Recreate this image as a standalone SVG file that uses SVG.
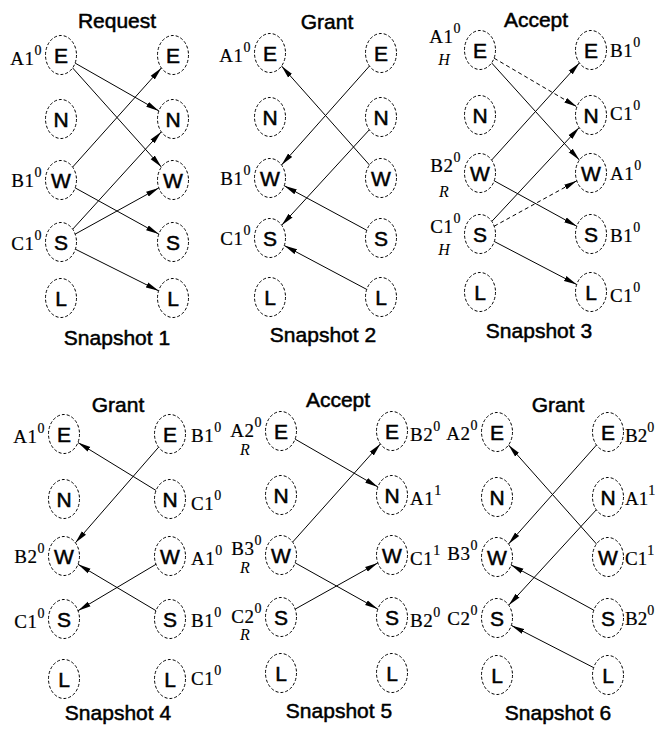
<svg xmlns="http://www.w3.org/2000/svg" width="657" height="729" viewBox="0 0 657 729">
<style>
  .bg { fill: #ffffff; }
  .nd ellipse { fill: #ffffff; stroke: #000; stroke-width: 1; stroke-dasharray: 3 2; }
  .nd .n { font-family: "Liberation Sans", Arial, sans-serif; font-size: 21px; text-anchor: middle; fill: #000; stroke: #000; stroke-width: 0.5px; }
  .lab { font-family: "Liberation Serif", "Times New Roman", serif; font-size: 19px; letter-spacing: 0.5px; fill: #000; stroke: #000; stroke-width: 0.2px; }
  .lab.l { text-anchor: end; }
  .lab.tight { letter-spacing: 0; }
  .sup { font-size: 14px; }
  .it { font-family: "Liberation Serif", "Times New Roman", serif; font-style: italic; font-size: 16px; text-anchor: middle; fill: #000; }
  .title { font-family: "Liberation Sans", Arial, sans-serif; font-size: 21px; text-anchor: middle; fill: #000; stroke: #000; stroke-width: 0.5px; }
  .c { stroke: #000; stroke-width: 1; fill: none; marker-end: url(#ah); }
  .d { stroke-dasharray: 4 3; }
</style>
<defs>
  <marker id="ah" markerWidth="14" markerHeight="7" refX="13" refY="3.5" orient="auto" markerUnits="userSpaceOnUse">
    <path d="M0,0.8 L13,3.5 L0,6.2 z" fill="#000"/>
  </marker>
</defs>
<rect class="bg" x="0" y="0" width="657" height="729"/>

<!-- titles -->
<g id="titles">
  <text class="title" x="117" y="28">Request</text>
  <text class="title" x="327" y="29">Grant</text>
  <text class="title" x="536" y="27">Accept</text>
  <text class="title" x="117" y="345">Snapshot 1</text>
  <text class="title" x="323" y="342">Snapshot 2</text>
  <text class="title" x="539" y="338">Snapshot 3</text>
  <text class="title" x="118" y="412">Grant</text>
  <text class="title" x="338" y="407">Accept</text>
  <text class="title" x="558" y="412">Grant</text>
  <text class="title" x="118" y="720">Snapshot 4</text>
  <text class="title" x="339" y="718">Snapshot 5</text>
  <text class="title" x="558" y="720">Snapshot 6</text>
</g>

<!-- connectors -->
<g id="connectors">
  <!-- snapshot 1: requests -->
  <line class="c" x1="75.1" y1="63.1" x2="158.9" y2="110.9"/>
  <line class="c" x1="72.6" y1="67.9" x2="161.4" y2="167.1"/>
  <line class="c" x1="72.6" y1="167.1" x2="161.4" y2="67.9"/>
  <line class="c" x1="75.2" y1="187.9" x2="158.8" y2="234.1"/>
  <line class="c" x1="72.7" y1="229.2" x2="161.3" y2="131.8"/>
  <line class="c" x1="75.2" y1="234.1" x2="158.8" y2="187.9"/>
  <line class="c" x1="75.4" y1="249.2" x2="158.6" y2="290.8"/>
  <!-- snapshot 2: grants -->
  <line class="c" x1="369.5" y1="165" x2="281.5" y2="66"/>
  <line class="c" x1="369.5" y1="66" x2="281.5" y2="165"/>
  <line class="c" x1="369.3" y1="129.8" x2="281.7" y2="225.2"/>
  <line class="c" x1="366.8" y1="230.3" x2="284.2" y2="185.7"/>
  <line class="c" x1="366.7" y1="289.4" x2="284.3" y2="245.6"/>
  <!-- snapshot 3: accepts -->
  <line class="c d" x1="494.1" y1="58.2" x2="576.9" y2="106.8"/>
  <line class="c" x1="491.6" y1="62.9" x2="579.4" y2="160.1"/>
  <line class="c" x1="491.6" y1="160.1" x2="579.4" y2="62.9"/>
  <line class="c" x1="494.2" y1="180.8" x2="576.8" y2="226.2"/>
  <line class="c" x1="491.8" y1="221.4" x2="579.2" y2="127.6"/>
  <line class="c d" x1="494.2" y1="226.2" x2="576.8" y2="180.8"/>
  <line class="c" x1="494.3" y1="241.5" x2="576.7" y2="284.5"/>
  <!-- snapshot 4: grants -->
  <line class="c" x1="156.1" y1="490.5" x2="77.9" y2="442.5"/>
  <line class="c" x1="158.6" y1="447.2" x2="75.4" y2="542.8"/>
  <line class="c" x1="156" y1="610.7" x2="78" y2="564.3"/>
  <line class="c" x1="156" y1="564.3" x2="78" y2="610.7"/>
  <!-- snapshot 5: accepts -->
  <line class="c" x1="295.1" y1="439.1" x2="377.9" y2="486.9"/>
  <line class="c" x1="292.6" y1="542.1" x2="380.4" y2="443.9"/>
  <line class="c" x1="295.2" y1="562.9" x2="377.8" y2="609.1"/>
  <line class="c" x1="295.2" y1="609.1" x2="377.8" y2="562.9"/>
  <!-- snapshot 6: grants -->
  <line class="c" x1="596.5" y1="544" x2="508.5" y2="445"/>
  <line class="c" x1="596.5" y1="445" x2="508.5" y2="544"/>
  <line class="c" x1="596.3" y1="509.8" x2="508.7" y2="605.2"/>
  <line class="c" x1="593.8" y1="610.2" x2="510.8" y2="564.8"/>
  <line class="c" x1="593.6" y1="667.6" x2="511.4" y2="625.4"/>
</g>

<!-- snapshot 1 nodes -->
<g id="s1-l-E" class="nd"><ellipse cx="61" cy="55" rx="15.5" ry="19.5"/><text class="n" x="61" y="62.5">E</text><text class="lab l" x="42" y="65">A1<tspan class="sup" dy="-10">0</tspan></text></g>
<g id="s1-l-N" class="nd"><ellipse cx="61" cy="119" rx="15.5" ry="19.5"/><text class="n" x="61" y="126.5">N</text></g>
<g id="s1-l-W" class="nd"><ellipse cx="61" cy="180" rx="15.5" ry="19.5"/><text class="n" x="61" y="187.5">W</text><text class="lab l" x="42" y="187">B1<tspan class="sup" dy="-10">0</tspan></text></g>
<g id="s1-l-S" class="nd"><ellipse cx="61" cy="242" rx="15.5" ry="19.5"/><text class="n" x="61" y="249.5">S</text><text class="lab l" x="42" y="250">C1<tspan class="sup" dy="-10">0</tspan></text></g>
<g id="s1-l-L" class="nd"><ellipse cx="61" cy="298" rx="15.5" ry="19.5"/><text class="n" x="61" y="305.5">L</text></g>
<g id="s1-r-E" class="nd"><ellipse cx="173" cy="55" rx="15.5" ry="19.5"/><text class="n" x="173" y="62.5">E</text></g>
<g id="s1-r-N" class="nd"><ellipse cx="173" cy="119" rx="15.5" ry="19.5"/><text class="n" x="173" y="126.5">N</text></g>
<g id="s1-r-W" class="nd"><ellipse cx="173" cy="180" rx="15.5" ry="19.5"/><text class="n" x="173" y="187.5">W</text></g>
<g id="s1-r-S" class="nd"><ellipse cx="173" cy="242" rx="15.5" ry="19.5"/><text class="n" x="173" y="249.5">S</text></g>
<g id="s1-r-L" class="nd"><ellipse cx="173" cy="298" rx="15.5" ry="19.5"/><text class="n" x="173" y="305.5">L</text></g>

<!-- snapshot 2 nodes -->
<g id="s2-l-E" class="nd"><ellipse cx="270" cy="53" rx="15.5" ry="19.5"/><text class="n" x="270" y="60.5">E</text><text class="lab l" x="251" y="62">A1<tspan class="sup" dy="-10">0</tspan></text></g>
<g id="s2-l-N" class="nd"><ellipse cx="270" cy="117" rx="15.5" ry="19.5"/><text class="n" x="270" y="124.5">N</text></g>
<g id="s2-l-W" class="nd"><ellipse cx="270" cy="178" rx="15.5" ry="19.5"/><text class="n" x="270" y="185.5">W</text><text class="lab l" x="251" y="185">B1<tspan class="sup" dy="-10">0</tspan></text></g>
<g id="s2-l-S" class="nd"><ellipse cx="270" cy="238" rx="15.5" ry="19.5"/><text class="n" x="270" y="245.5">S</text><text class="lab l" x="251" y="245">C1<tspan class="sup" dy="-10">0</tspan></text></g>
<g id="s2-l-L" class="nd"><ellipse cx="270" cy="297" rx="15.5" ry="19.5"/><text class="n" x="270" y="304.5">L</text></g>
<g id="s2-r-E" class="nd"><ellipse cx="381" cy="53" rx="15.5" ry="19.5"/><text class="n" x="381" y="60.5">E</text></g>
<g id="s2-r-N" class="nd"><ellipse cx="381" cy="117" rx="15.5" ry="19.5"/><text class="n" x="381" y="124.5">N</text></g>
<g id="s2-r-W" class="nd"><ellipse cx="381" cy="178" rx="15.5" ry="19.5"/><text class="n" x="381" y="185.5">W</text></g>
<g id="s2-r-S" class="nd"><ellipse cx="381" cy="238" rx="15.5" ry="19.5"/><text class="n" x="381" y="245.5">S</text></g>
<g id="s2-r-L" class="nd"><ellipse cx="381" cy="297" rx="15.5" ry="19.5"/><text class="n" x="381" y="304.5">L</text></g>

<!-- snapshot 3 nodes -->
<g id="s3-l-E" class="nd"><ellipse cx="480" cy="50" rx="15.5" ry="19.5"/><text class="n" x="480" y="57.5">E</text><text class="lab l" x="461" y="43">A1<tspan class="sup" dy="-10">0</tspan></text><text class="it" x="444" y="65">H</text></g>
<g id="s3-l-N" class="nd"><ellipse cx="480" cy="115" rx="15.5" ry="19.5"/><text class="n" x="480" y="122.5">N</text></g>
<g id="s3-l-W" class="nd"><ellipse cx="480" cy="173" rx="15.5" ry="19.5"/><text class="n" x="480" y="180.5">W</text><text class="lab l" x="461" y="172">B2<tspan class="sup" dy="-10">0</tspan></text><text class="it" x="444" y="197">R</text></g>
<g id="s3-l-S" class="nd"><ellipse cx="480" cy="234" rx="15.5" ry="19.5"/><text class="n" x="480" y="241.5">S</text><text class="lab l" x="461" y="233">C1<tspan class="sup" dy="-10">0</tspan></text><text class="it" x="444" y="255">H</text></g>
<g id="s3-l-L" class="nd"><ellipse cx="480" cy="292" rx="15.5" ry="19.5"/><text class="n" x="480" y="299.5">L</text></g>
<g id="s3-r-E" class="nd"><ellipse cx="591" cy="50" rx="15.5" ry="19.5"/><text class="n" x="591" y="57.5">E</text><text class="lab" x="610" y="57">B1<tspan class="sup" dy="-10">0</tspan></text></g>
<g id="s3-r-N" class="nd"><ellipse cx="591" cy="115" rx="15.5" ry="19.5"/><text class="n" x="591" y="122.5">N</text><text class="lab" x="610" y="120">C1<tspan class="sup" dy="-10">0</tspan></text></g>
<g id="s3-r-W" class="nd"><ellipse cx="591" cy="173" rx="15.5" ry="19.5"/><text class="n" x="591" y="180.5">W</text><text class="lab" x="610" y="180">A1<tspan class="sup" dy="-10">0</tspan></text></g>
<g id="s3-r-S" class="nd"><ellipse cx="591" cy="234" rx="15.5" ry="19.5"/><text class="n" x="591" y="241.5">S</text><text class="lab" x="610" y="242">B1<tspan class="sup" dy="-10">0</tspan></text></g>
<g id="s3-r-L" class="nd"><ellipse cx="591" cy="292" rx="15.5" ry="19.5"/><text class="n" x="591" y="299.5">L</text><text class="lab" x="610" y="302">C1<tspan class="sup" dy="-10">0</tspan></text></g>

<!-- snapshot 4 nodes -->
<g id="s4-l-E" class="nd"><ellipse cx="64" cy="434" rx="15.5" ry="19.5"/><text class="n" x="64" y="441.5">E</text><text class="lab l" x="45" y="443">A1<tspan class="sup" dy="-10">0</tspan></text></g>
<g id="s4-l-N" class="nd"><ellipse cx="64" cy="499" rx="15.5" ry="19.5"/><text class="n" x="64" y="506.5">N</text></g>
<g id="s4-l-W" class="nd"><ellipse cx="64" cy="556" rx="15.5" ry="19.5"/><text class="n" x="64" y="563.5">W</text><text class="lab l" x="45" y="563">B2<tspan class="sup" dy="-10">0</tspan></text></g>
<g id="s4-l-S" class="nd"><ellipse cx="64" cy="619" rx="15.5" ry="19.5"/><text class="n" x="64" y="626.5">S</text><text class="lab l" x="45" y="628">C1<tspan class="sup" dy="-10">0</tspan></text></g>
<g id="s4-l-L" class="nd"><ellipse cx="64" cy="679" rx="15.5" ry="19.5"/><text class="n" x="64" y="686.5">L</text></g>
<g id="s4-r-E" class="nd"><ellipse cx="170" cy="434" rx="15.5" ry="19.5"/><text class="n" x="170" y="441.5">E</text><text class="lab" x="191" y="442">B1<tspan class="sup" dy="-10">0</tspan></text></g>
<g id="s4-r-N" class="nd"><ellipse cx="170" cy="499" rx="15.5" ry="19.5"/><text class="n" x="170" y="506.5">N</text><text class="lab" x="191" y="510">C1<tspan class="sup" dy="-10">0</tspan></text></g>
<g id="s4-r-W" class="nd"><ellipse cx="170" cy="556" rx="15.5" ry="19.5"/><text class="n" x="170" y="563.5">W</text><text class="lab" x="191" y="565">A1<tspan class="sup" dy="-10">0</tspan></text></g>
<g id="s4-r-S" class="nd"><ellipse cx="170" cy="619" rx="15.5" ry="19.5"/><text class="n" x="170" y="626.5">S</text><text class="lab" x="191" y="627">B1<tspan class="sup" dy="-10">0</tspan></text></g>
<g id="s4-r-L" class="nd"><ellipse cx="170" cy="679" rx="15.5" ry="19.5"/><text class="n" x="170" y="686.5">L</text><text class="lab" x="191" y="685">C1<tspan class="sup" dy="-10">0</tspan></text></g>

<!-- snapshot 5 nodes -->
<g id="s5-l-E" class="nd"><ellipse cx="281" cy="431" rx="15.5" ry="19.5"/><text class="n" x="281" y="438.5">E</text><text class="lab l" x="262" y="437">A2<tspan class="sup" dy="-10">0</tspan></text><text class="it" x="245" y="455">R</text></g>
<g id="s5-l-N" class="nd"><ellipse cx="281" cy="495" rx="15.5" ry="19.5"/><text class="n" x="281" y="502.5">N</text></g>
<g id="s5-l-W" class="nd"><ellipse cx="281" cy="555" rx="15.5" ry="19.5"/><text class="n" x="281" y="562.5">W</text><text class="lab l" x="262" y="555">B3<tspan class="sup" dy="-10">0</tspan></text><text class="it" x="245" y="573">R</text></g>
<g id="s5-l-S" class="nd"><ellipse cx="281" cy="617" rx="15.5" ry="19.5"/><text class="n" x="281" y="624.5">S</text><text class="lab l" x="262" y="623">C2<tspan class="sup" dy="-10">0</tspan></text><text class="it" x="245" y="640">R</text></g>
<g id="s5-l-L" class="nd"><ellipse cx="281" cy="673" rx="15.5" ry="19.5"/><text class="n" x="281" y="680.5">L</text></g>
<g id="s5-r-E" class="nd"><ellipse cx="392" cy="431" rx="15.5" ry="19.5"/><text class="n" x="392" y="438.5">E</text><text class="lab" x="410" y="441">B2<tspan class="sup" dy="-10">0</tspan></text></g>
<g id="s5-r-N" class="nd"><ellipse cx="392" cy="495" rx="15.5" ry="19.5"/><text class="n" x="392" y="502.5">N</text><text class="lab" x="410" y="505">A1<tspan class="sup" dy="-10">1</tspan></text></g>
<g id="s5-r-W" class="nd"><ellipse cx="392" cy="555" rx="15.5" ry="19.5"/><text class="n" x="392" y="562.5">W</text><text class="lab" x="410" y="565">C1<tspan class="sup" dy="-10">1</tspan></text></g>
<g id="s5-r-S" class="nd"><ellipse cx="392" cy="617" rx="15.5" ry="19.5"/><text class="n" x="392" y="624.5">S</text><text class="lab" x="410" y="627">B2<tspan class="sup" dy="-10">0</tspan></text></g>
<g id="s5-r-L" class="nd"><ellipse cx="392" cy="673" rx="15.5" ry="19.5"/><text class="n" x="392" y="680.5">L</text></g>

<!-- snapshot 6 nodes -->
<g id="s6-l-E" class="nd"><ellipse cx="497" cy="432" rx="15.5" ry="19.5"/><text class="n" x="497" y="439.5">E</text><text class="lab l" x="478" y="440">A2<tspan class="sup" dy="-10">0</tspan></text></g>
<g id="s6-l-N" class="nd"><ellipse cx="497" cy="497" rx="15.5" ry="19.5"/><text class="n" x="497" y="504.5">N</text></g>
<g id="s6-l-W" class="nd"><ellipse cx="497" cy="557" rx="15.5" ry="19.5"/><text class="n" x="497" y="564.5">W</text><text class="lab l" x="478" y="560">B3<tspan class="sup" dy="-10">0</tspan></text></g>
<g id="s6-l-S" class="nd"><ellipse cx="497" cy="618" rx="15.5" ry="19.5"/><text class="n" x="497" y="625.5">S</text><text class="lab l" x="478" y="625">C2<tspan class="sup" dy="-10">0</tspan></text></g>
<g id="s6-l-L" class="nd"><ellipse cx="497" cy="675" rx="15.5" ry="19.5"/><text class="n" x="497" y="682.5">L</text></g>
<g id="s6-r-E" class="nd"><ellipse cx="608" cy="432" rx="15.5" ry="19.5"/><text class="n" x="608" y="439.5">E</text><text class="lab tight" x="625" y="442">B2<tspan class="sup" dy="-10">0</tspan></text></g>
<g id="s6-r-N" class="nd"><ellipse cx="608" cy="497" rx="15.5" ry="19.5"/><text class="n" x="608" y="504.5">N</text><text class="lab tight" x="625" y="505">A1<tspan class="sup" dy="-10">1</tspan></text></g>
<g id="s6-r-W" class="nd"><ellipse cx="608" cy="557" rx="15.5" ry="19.5"/><text class="n" x="608" y="564.5">W</text><text class="lab tight" x="625" y="565">C1<tspan class="sup" dy="-10">1</tspan></text></g>
<g id="s6-r-S" class="nd"><ellipse cx="608" cy="618" rx="15.5" ry="19.5"/><text class="n" x="608" y="625.5">S</text><text class="lab tight" x="625" y="625">B2<tspan class="sup" dy="-10">0</tspan></text></g>
<g id="s6-r-L" class="nd"><ellipse cx="608" cy="675" rx="15.5" ry="19.5"/><text class="n" x="608" y="682.5">L</text></g>
</svg>
